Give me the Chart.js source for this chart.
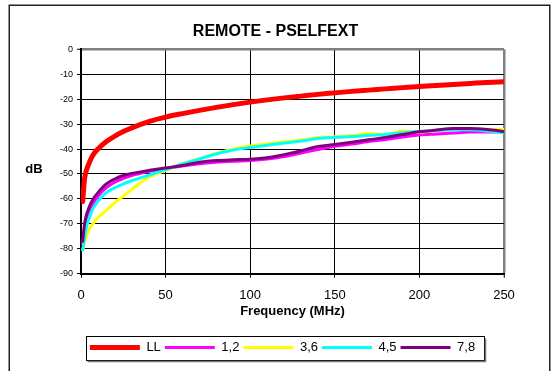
<!DOCTYPE html>
<html>
<head>
<meta charset="utf-8">
<script src="https://cdn.jsdelivr.net/npm/chart.js@4"></script>
<style>
  html, body { margin: 0; padding: 0; background: #fff; }
  #wrap { width: 551px; height: 371px; }
</style>
</head>
<body>
<div id="wrap"><canvas id="chart" width="551" height="371"></canvas></div>
<script>
// Frequency points (MHz)
const freq = [1, 2, 3, 5, 7, 10, 15, 20, 25, 30, 40, 50, 60, 70, 80, 90, 100, 110, 120, 130, 140, 150, 160, 170, 180, 190, 200, 210, 220, 230, 240, 250];

// Series values (dB)
const limitLL = [-61, -52.5, -49, -45.3, -42.5, -40, -37, -34.8, -33, -31.5, -29, -27.2, -25.8, -24.5, -23.3, -22.2, -21.2, -20.3, -19.5, -18.8, -18.1, -17.5, -16.9, -16.4, -15.9, -15.4, -14.9, -14.5, -14.1, -13.7, -13.3, -13.0];
const pair12 = [-78, -72, -68, -64.5, -62, -59, -55.5, -53.3, -51.8, -50.6, -49, -47.8, -46.8, -45.9, -45.3, -44.9, -44.6, -44, -43, -41.6, -40.2, -38.9, -38, -37, -36.2, -35.2, -34.4, -34, -33.6, -33.2, -33.2, -33.2];
const pair36 = [-80.5, -78, -75.5, -72, -70, -67.5, -64.5, -61.5, -58.8, -56.2, -51.3, -48.6, -45.8, -43.8, -41.8, -40, -38.8, -38, -37.1, -36.4, -35.4, -35.1, -34.6, -33.8, -34.1, -32.8, -33.2, -32.5, -32, -32, -32.2, -32.2];
const pair45 = [-80.5, -76, -72, -67.5, -64, -61, -57.5, -55.5, -54, -52.7, -50.5, -48.2, -46, -44, -42, -40.4, -39.4, -38.5, -37.6, -36.8, -35.8, -35.3, -35, -34.5, -34.2, -33.5, -33, -32.6, -32.3, -32.3, -32.8, -33.6];
const pair78 = [-77, -70.5, -67, -63, -60.2, -57.5, -54, -52, -50.6, -49.8, -48.6, -47.6, -46.6, -45.3, -44.6, -44.3, -44.1, -43.5, -42.3, -40.7, -39, -38.2, -37.3, -36.3, -35.4, -34.2, -33.1, -32.4, -31.8, -31.8, -32.2, -33];

const seriesLabels = ['LL', '1,2', '3,6', '4,5', '7,8'];
const seriesColors = ['#ff0000', '#ff00ff', '#ffff00', '#00ffff', '#800080'];
const seriesData = [limitLL, pair12, pair36, pair45, pair78];

function toPoints(values) {
    return values.map((v, i) => ({ x: freq[i], y: v }));
}

const datasets = seriesData.map((vals, i) => ({
    label: seriesLabels[i],
    data: toPoints(vals),
    borderColor: seriesColors[i],
    backgroundColor: seriesColors[i],
    borderWidth: i === 0 ? 5 : 3,
    borderCapStyle: 'round',
    pointRadius: 0,
    cubicInterpolationMode: 'monotone',
    order: 4 - i
}));

// Frame, legend box and the horizontal "dB" label
const decorations = {
    id: 'decorations',
    afterLayout(chart) {
        // Excel legend sits a bit right of centre
        chart.legend.left += 7;
        chart.legend.right += 7;
    },
    afterDraw(chart) {
        const ctx = chart.ctx;
        ctx.save();
        ctx.strokeStyle = '#222';
        ctx.lineWidth = 1.5;
        ctx.strokeRect(9.25, 5.25, 540.5, 380);

        ctx.fillStyle = '#000';
        ctx.font = 'bold 13px Arial, "Liberation Sans", sans-serif';
        ctx.textAlign = 'center';
        ctx.textBaseline = 'middle';
        ctx.fillText('dB', 34, 169);

        const boxes = chart.legend.legendHitBoxes;
        if (boxes && boxes.length) {
            const first = boxes[0];
            const last = boxes[boxes.length - 1];
            const cy = first.top + first.height / 2;
            const x0 = Math.round(first.left - 4) + 0.5;
            const x1 = Math.round(last.left + last.width + 9) + 0.5;
            const y0 = Math.round(cy - 12) + 0.5;
            const y1 = Math.round(cy + 12) + 0.5;
            ctx.strokeStyle = '#000';
            ctx.lineWidth = 1;
            ctx.strokeRect(x0, y0, x1 - x0, y1 - y0);
            ctx.strokeStyle = '#777';
            ctx.lineWidth = 1.5;
            ctx.beginPath();
            ctx.moveTo(x0 + 1, y1 + 1);
            ctx.lineTo(x1 + 1, y1 + 1);
            ctx.lineTo(x1 + 1, y0 + 2);
            ctx.stroke();
        }
        ctx.restore();
    }
};

const ctx = document.getElementById('chart').getContext('2d');
new Chart(ctx, {
    type: 'line',
    data: { datasets: datasets },
    options: {
        responsive: false,
        animation: false,
        layout: { padding: { top: 0, left: 0, right: 0, bottom: 7 } },
        plugins: {
            title: {
                display: true,
                text: 'REMOTE - PSELFEXT',
                color: '#000',
                font: { family: 'Arial, "Liberation Sans", sans-serif', size: 16, weight: 'bold' },
                padding: { top: 22, bottom: 8 }
            },
            legend: {
                position: 'bottom',
                labels: {
                    color: '#000',
                    font: { family: 'Arial, "Liberation Sans", sans-serif', size: 13 },
                    usePointStyle: true,
                    pointStyle: 'line',
                    pointStyleWidth: 50,
                    padding: 4,
                    sort: (a, b) => a.datasetIndex - b.datasetIndex
                }
            },
            tooltip: { enabled: false }
        },
        scales: {
            x: {
                type: 'linear',
                min: 0,
                max: 250,
                ticks: {
                    stepSize: 50,
                    color: '#000',
                    padding: 10,
                    maxRotation: 0,
                    font: { family: 'Arial, "Liberation Sans", sans-serif', size: 13 }
                },
                grid: {
                    color: c => (c.tick && c.tick.value === 250 ? '#808080' : '#000'),
                    lineWidth: c => (c.tick && c.tick.value === 250 ? 2.5 : 1),
                    tickLength: 4,
                    tickColor: '#000',
                    tickWidth: 1
                },
                border: { color: '#000', width: 2 },
                title: {
                    display: true,
                    text: 'Frequency (MHz)',
                    color: '#000',
                    font: { family: 'Arial, "Liberation Sans", sans-serif', size: 13, weight: 'bold' },
                    padding: { top: -10, bottom: 18 }
                }
            },
            y: {
                min: -90,
                max: 0,
                afterFit: s => { s.width = 81; },
                ticks: {
                    stepSize: 10,
                    color: '#000',
                    padding: 4,
                    font: { family: 'Arial, "Liberation Sans", sans-serif', size: 9 }
                },
                grid: {
                    color: c => (c.tick && c.tick.value === 0 ? '#808080' : '#000'),
                    lineWidth: c => (c.tick && c.tick.value === 0 ? 2.5 : 1),
                    tickLength: 4,
                    tickColor: '#000',
                    tickWidth: 1
                },
                border: { color: '#000', width: 2 }
            },
            spacer: {
                position: 'right',
                display: true,
                afterFit: s => { s.width = 47; },
                ticks: { display: false },
                grid: { display: false, drawTicks: false },
                border: { display: false }
            }
        }
    },
    plugins: [decorations]
});
</script>
</body>
</html>
